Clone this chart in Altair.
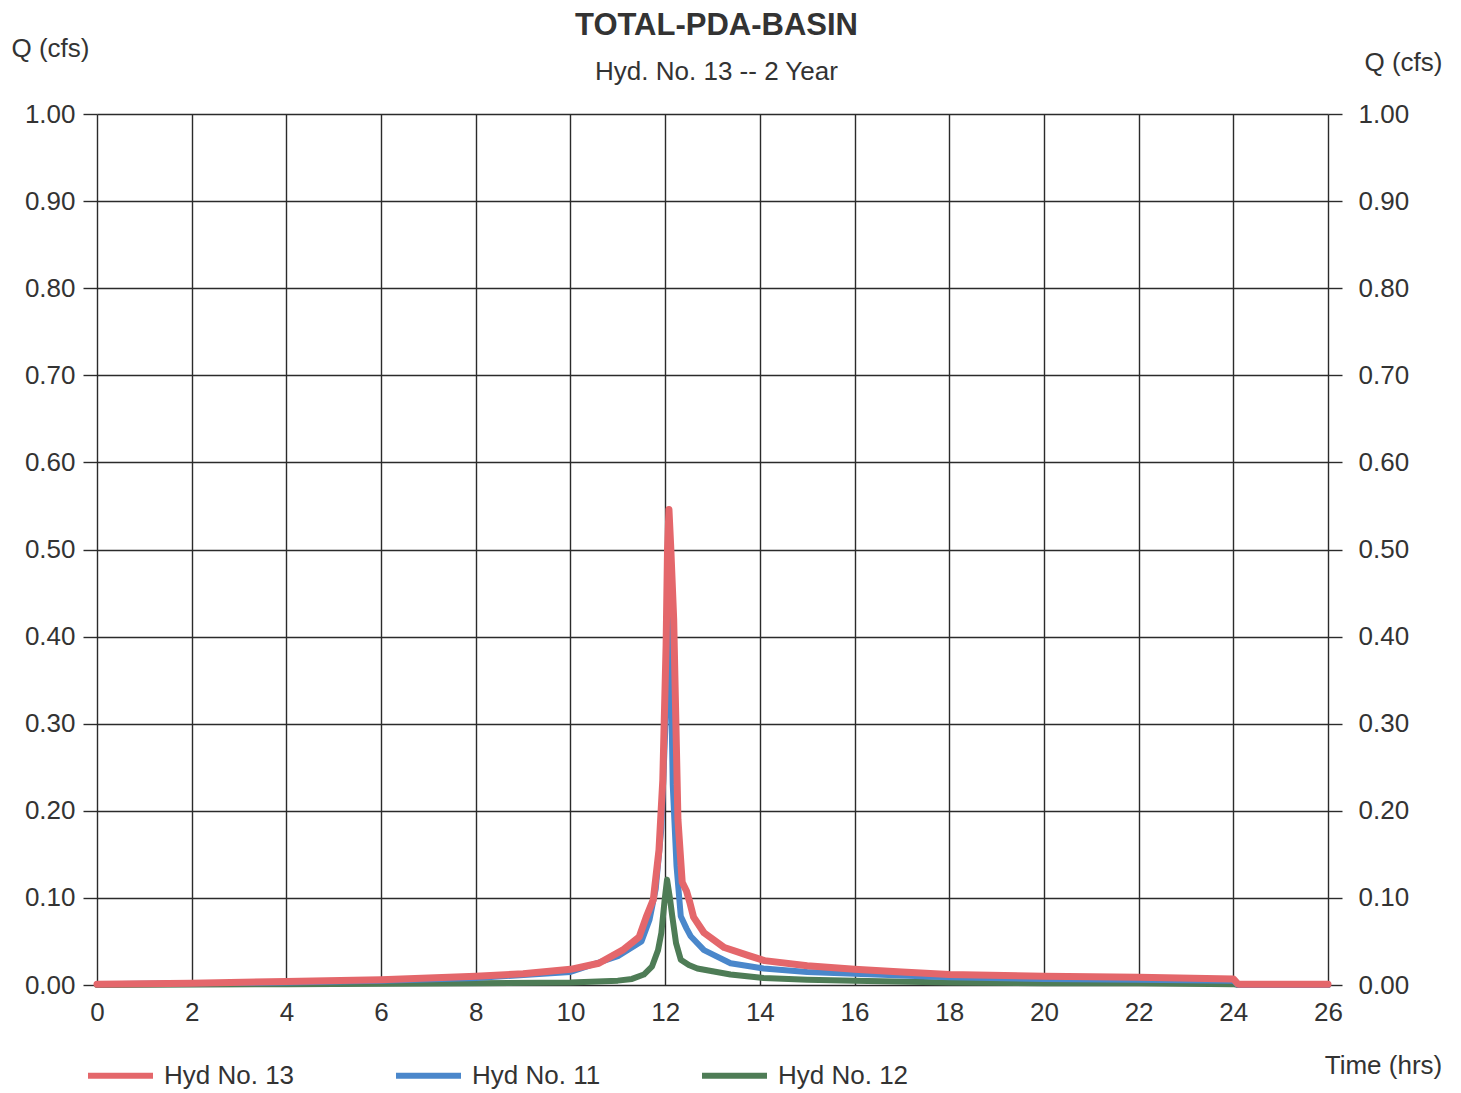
import altair as alt
import pandas as pd

# Hydrograph ordinates (time in hrs, flow in cfs)
t13 = [0, 2, 4, 6, 8, 9, 10, 10.6, 11.1, 11.45, 11.6, 11.75, 11.87, 11.95, 12.02,
       12.05, 12.08, 12.12, 12.18, 12.27, 12.36, 12.45, 12.52, 12.6, 12.82, 13.25,
       13.75, 14.1, 15, 16, 17, 18, 20, 22, 24.0, 24.1, 26]
q13 = [0.001, 0.002, 0.004, 0.006, 0.010, 0.013, 0.018, 0.025, 0.040, 0.055, 0.078,
       0.098, 0.155, 0.235, 0.390, 0.500, 0.546, 0.500, 0.420, 0.190, 0.118, 0.108,
       0.095, 0.078, 0.060, 0.043, 0.034, 0.028, 0.022, 0.018, 0.015, 0.012, 0.010,
       0.009, 0.007, 0.001, 0.001]

t11 = [0, 2, 4, 6, 8, 10, 11, 11.5, 11.67, 11.8, 11.92, 12.0, 12.05, 12.08, 12.12,
       12.16, 12.24, 12.33, 12.45, 12.54, 12.82, 13.38, 14.08, 15, 16, 17, 18, 20,
       22, 24, 24.1, 26]
q11 = [0.001, 0.002, 0.003, 0.005, 0.008, 0.015, 0.033, 0.050, 0.075, 0.110, 0.180,
       0.290, 0.380, 0.430, 0.360, 0.230, 0.137, 0.079, 0.065, 0.056, 0.040, 0.025,
       0.019, 0.015, 0.013, 0.011, 0.009, 0.007, 0.006, 0.005, 0.000, 0.000]

t12 = [0, 4, 8, 10, 11, 11.3, 11.55, 11.72, 11.85, 11.92, 11.99, 12.04, 12.1, 12.15,
       12.23, 12.33, 12.5, 12.68, 13.38, 14.08, 15, 16, 18, 20, 22, 24, 24.1, 26]
q12 = [0.000, 0.001, 0.002, 0.003, 0.005, 0.007, 0.012, 0.021, 0.040, 0.060, 0.098,
       0.121, 0.100, 0.079, 0.048, 0.029, 0.023, 0.019, 0.012, 0.008, 0.006, 0.005,
       0.003, 0.002, 0.002, 0.001, 0.000, 0.000]

series_names = ["Hyd No. 13", "Hyd No. 11", "Hyd No. 12"]
series_colors = ["#e4676b", "#4a87cb", "#4e7c56"]
x_ticks = list(range(0, 27, 2))
y_ticks = [round(i * 0.1, 1) for i in range(11)]

frames = []
for name, ts, qs in zip(series_names, [t13, t11, t12], [q13, q11, q12]):
    frames.append(pd.DataFrame({"t": ts, "q": qs, "series": name}))
df = pd.concat(frames, ignore_index=True)

FONT = "Liberation Sans"
INK = "#333333"
GRID = "#2b2b2b"

yscale = alt.Scale(domain=[0, 1], nice=False, zero=True)

x_enc = alt.X(
    "t:Q",
    scale=alt.Scale(domain=[0, 26], nice=False),
    axis=alt.Axis(
        values=x_ticks, grid=True, gridColor=GRID, gridWidth=1.4, gridOpacity=1,
        ticks=False, domain=False, labelFontSize=26, labelPadding=14,
        labelColor=INK, labelFont=FONT, labelFlush=False, labelOverlap=False,
        title="Time (hrs)", titleX=1286, titleY=80, titleAlign="center",
        titleBaseline="middle", titleFontSize=26, titleFontWeight="normal",
        titleFont=FONT, titleColor=INK,
    ),
)

color_enc = alt.Color(
    "series:N",
    scale=alt.Scale(domain=series_names, range=series_colors),
    legend=alt.Legend(
        orient="none", legendX=-12, legendY=926, direction="horizontal",
        symbolType="stroke", symbolSize=4225, symbolStrokeWidth=6,
        labelFontSize=26, labelFont=FONT, labelColor=INK, labelOffset=8,
        columnPadding=89, title=None, padding=0,
    ),
)

left_axis = alt.Axis(
    values=y_ticks, format=".2f", grid=True, gridColor=GRID, gridWidth=1.4,
    gridOpacity=1, tickSize=14, tickColor=GRID, tickWidth=1.4, domain=False,
    labelPadding=8, labelFontSize=26, labelFont=FONT, labelColor=INK,
    labelFlush=False, labelOverlap=False,
    title="Q (cfs)", titleAngle=0, titleX=-47, titleY=-66, titleAlign="center",
    titleBaseline="middle", titleFontSize=26, titleFontWeight="normal",
    titleFont=FONT, titleColor=INK,
)

right_axis = alt.Axis(
    orient="right", values=y_ticks, format=".2f", grid=False, tickSize=14,
    tickColor=GRID, tickWidth=1.4, domain=False, labelPadding=16,
    labelFontSize=26, labelFont=FONT, labelColor=INK, labelFlush=False,
    labelOverlap=False,
    title="Q (cfs)", titleAngle=0, titleX=75, titleY=-52, titleAlign="center",
    titleBaseline="middle", titleFontSize=26, titleFontWeight="normal",
    titleFont=FONT, titleColor=INK,
)

base = alt.Chart(df).encode(x=x_enc, color=color_enc)

def hyd_line(name, axis, width):
    return base.transform_filter(alt.datum.series == name).mark_line(
        strokeWidth=width, strokeJoin="round", strokeCap="round"
    ).encode(y=alt.Y("q:Q", scale=yscale, axis=axis))

green = hyd_line("Hyd No. 12", left_axis, 6)
blue = hyd_line("Hyd No. 11", None, 6)
red = hyd_line("Hyd No. 13", right_axis, 7)

chart = (
    alt.layer(green, blue, red)
    .resolve_scale(y="independent")
    .properties(
        width=1231,
        height=871,
        autosize=alt.AutoSizeParams(type="none"),
        padding={"left": 97, "top": 114, "right": 133, "bottom": 108},
        background="white",
        title=alt.TitleParams(
            text="TOTAL-PDA-BASIN", subtitle="Hyd. No. 13 -- 2 Year",
            font=FONT, fontSize=31, fontWeight="bold", color=INK,
            subtitleFont=FONT, subtitleFontSize=26, subtitleColor=INK,
            anchor="middle", frame="group", dx=4, offset=-51,
            subtitlePadding=17,
        ),
    )
    .configure_view(stroke=None)
)

chart.save("out.html", embed_options={"renderer": "svg", "actions": False})
